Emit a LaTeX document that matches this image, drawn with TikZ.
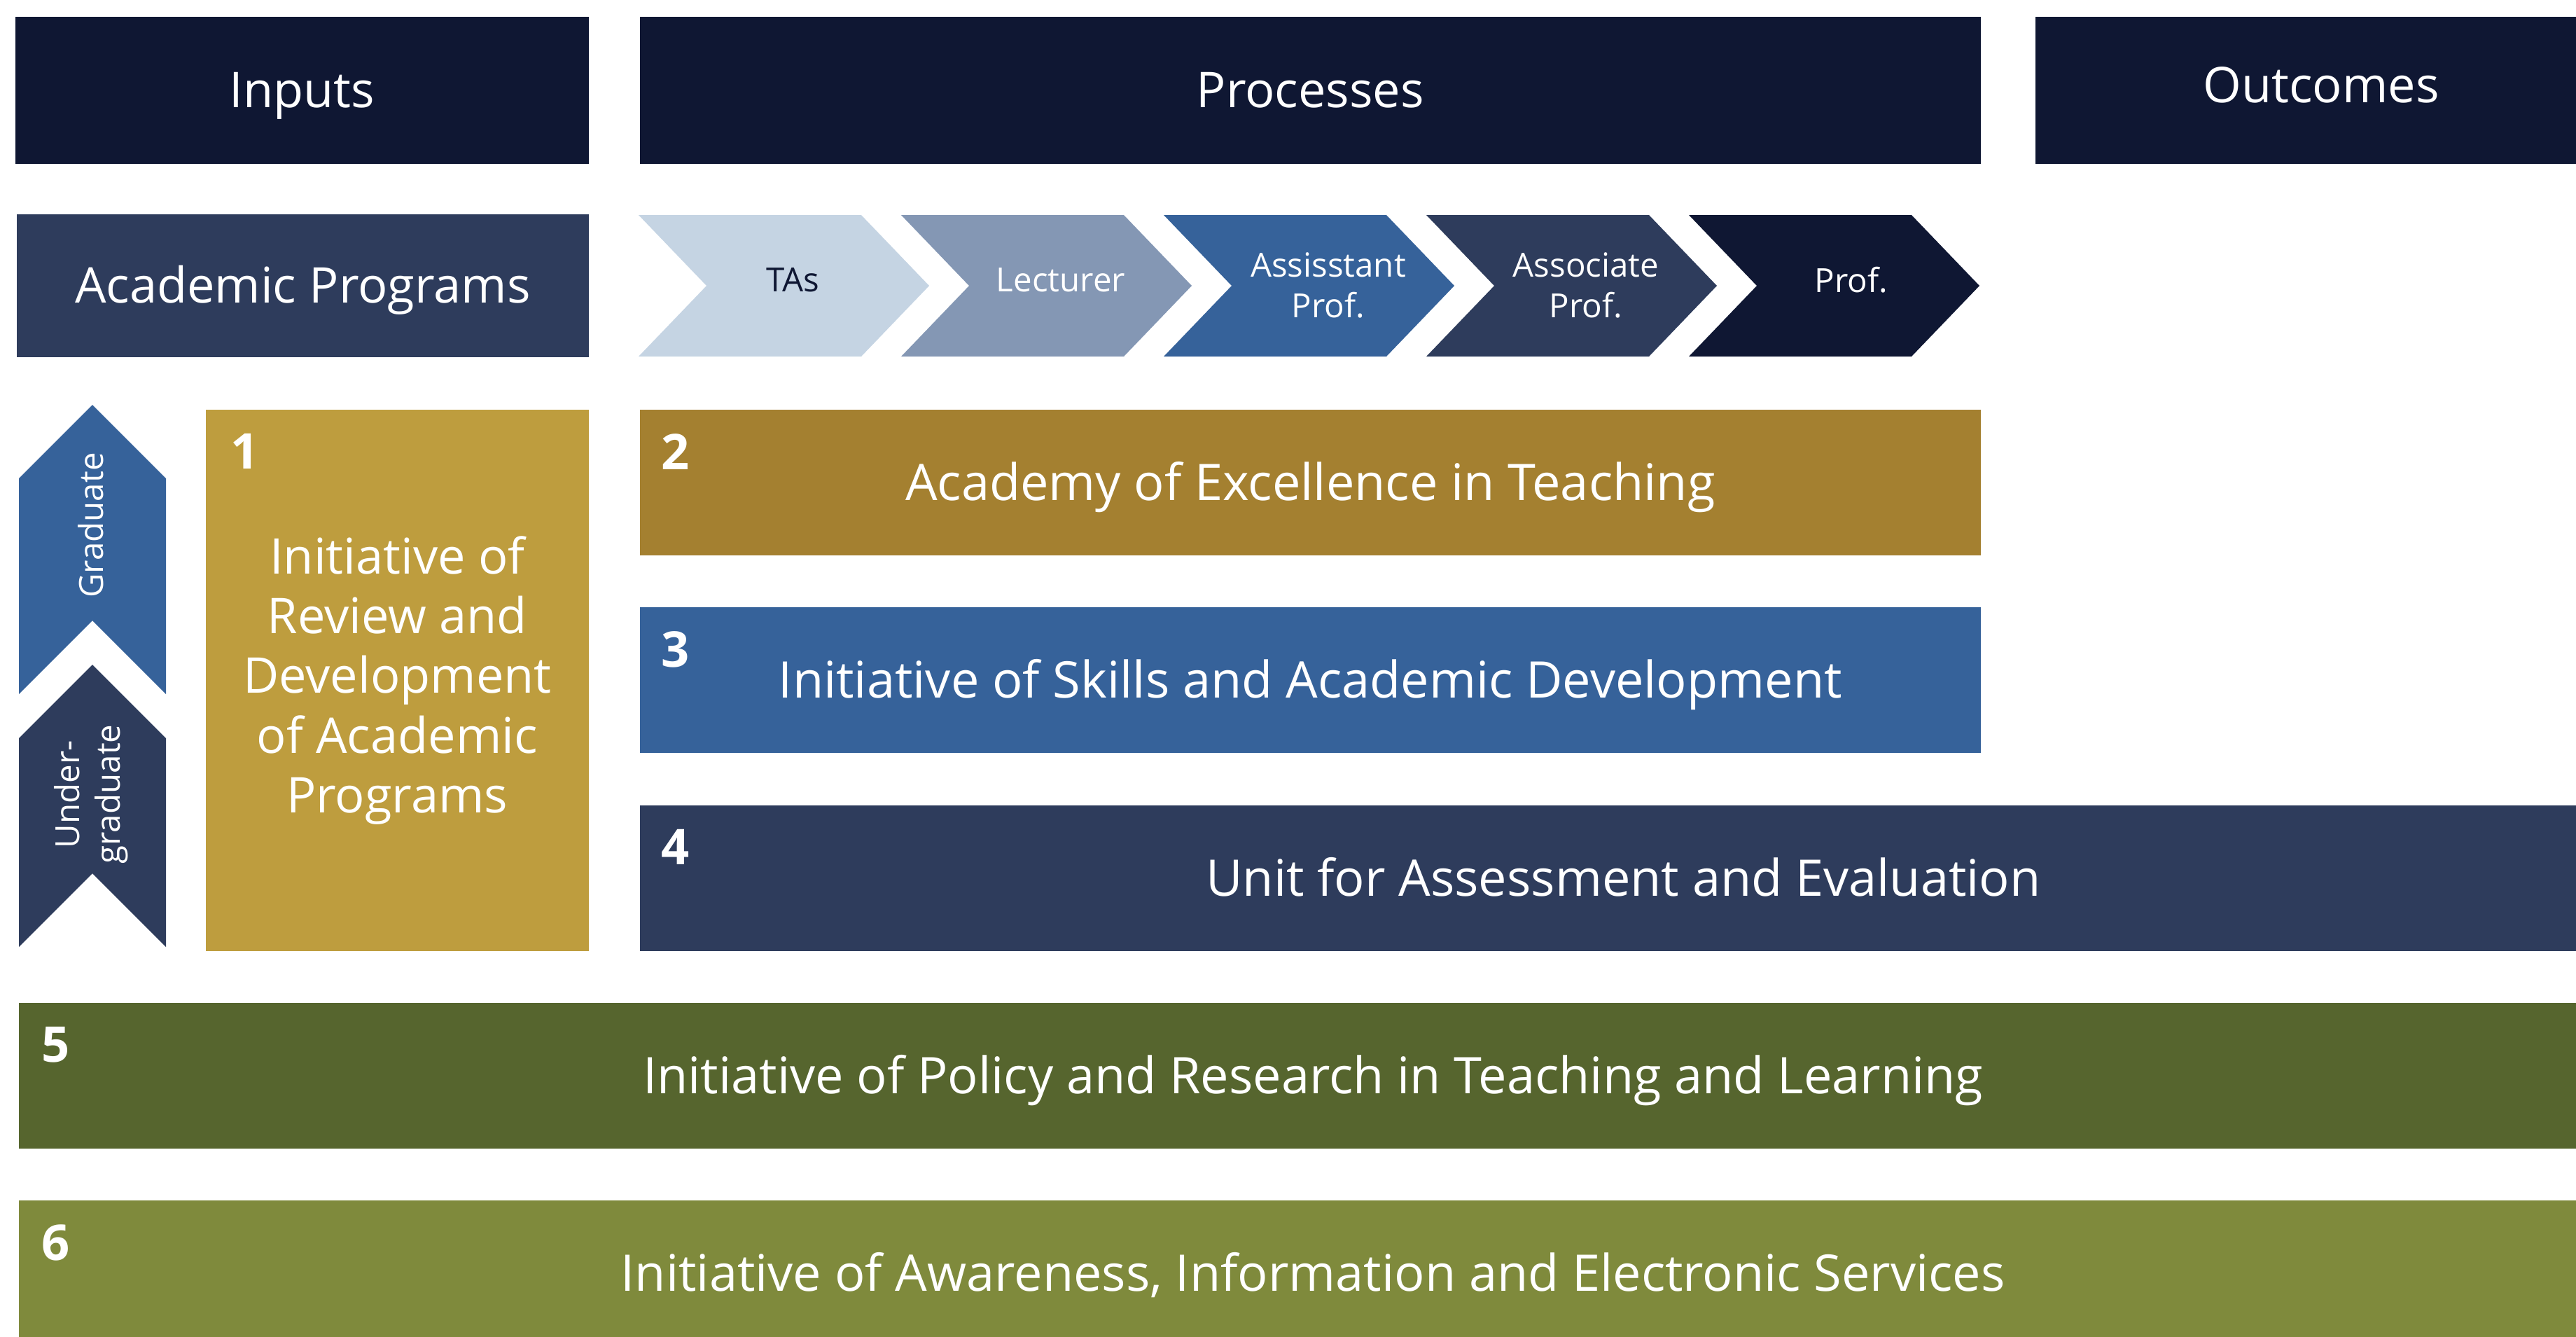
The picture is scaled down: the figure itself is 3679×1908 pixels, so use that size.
\documentclass[tikz,border=0pt]{standalone}
\usepackage{fontspec}
\setmainfont{Open Sans}
\usepackage{tikz}
\usetikzlibrary{positioning}

\definecolor{navy}{HTML}{0F1733}
\definecolor{slate}{HTML}{2E3C5C}
\definecolor{steel}{HTML}{36629A}
\definecolor{greyblue}{HTML}{8497B4}
\definecolor{pale}{HTML}{C5D4E3}
\definecolor{gold}{HTML}{BE9D3E}
\definecolor{ochre}{HTML}{A48030}
\definecolor{olive}{HTML}{56652E}
\definecolor{moss}{HTML}{7F8A3C}

\tikzset{
    box/.style={ % Coloured block, placed by its top left corner
        rectangle,
        anchor=north west,
        inner sep=0pt,
        text=white,
        align=center,
        font=\fontsize{20}{24.2}\selectfont
    },
    oneline/.style={text height=14.3pt, text depth=0pt}, % centre on the capitals
    headbox/.style={box, oneline, fill=navy, minimum height=21mm},
    bar/.style={box, oneline, minimum height=20.8mm, font=\fontsize{20.5}{24}\selectfont, text height=14.6pt},
    num/.style={ % Number in the corner of a block
        anchor=north west,
        inner sep=0pt,
        text=white,
        font=\fontsize{20}{24}\selectfont\bfseries
    },
    chevtext/.style={
        inner sep=0pt,
        align=center,
        text=white,
        font=\fontsize{13.5}{16.5}\selectfont
    }
}

\begin{document}
\begin{tikzpicture}[x=0.01cm, y=-0.01cm]
            \useasboundingbox (0,0) rectangle (3679,1908);
            \clip (0,0) rectangle (3679,1908);

            % headers
            \node[headbox, minimum width=81.9mm] (inputs) at (21,23) {Inputs};
            \node[headbox, minimum width=191.4mm] (processes) at (913,23) {Processes};
            \node[headbox, minimum width=81.6mm, text depth=4pt] (outcomes) at (2906,23) {Outcomes};

            % academic ranks
            \node[box, oneline, fill=slate, minimum width=81.7mm, minimum height=20.4mm] (programs) at (23,305) {Academic Programs};
            \fill[pale] (912,307) -- ++(318,0) -- ++(97,101) -- ++(-97,101) -- ++(-318,0) -- ++(97,-101) -- cycle;
            \fill[greyblue] (1287,307) -- ++(318,0) -- ++(97,101) -- ++(-97,101) -- ++(-318,0) -- ++(97,-101) -- cycle;
            \fill[steel] (1662,307) -- ++(318,0) -- ++(97,101) -- ++(-97,101) -- ++(-318,0) -- ++(97,-101) -- cycle;
            \fill[slate] (2037,307) -- ++(318,0) -- ++(97,101) -- ++(-97,101) -- ++(-318,0) -- ++(97,-101) -- cycle;
            \fill[navy] (2412,307) -- ++(318,0) -- ++(97,101) -- ++(-97,101) -- ++(-318,0) -- ++(97,-101) -- cycle;
            \node[chevtext, text=navy] (tas) at (1132,400) {TAs};
            \node[chevtext] (lecturer) at (1515,400) {Lecturer};
            \node[chevtext] (assistant) at (1897,407) {Assisstant\\Prof.};
            \node[chevtext] (associate) at (2265,407) {Associate\\Prof.};
            \node[chevtext] (prof) at (2644,400) {Prof.};

            % levels
            \fill[steel] (27,683) -- ++(105,-105) -- ++(105,105) -- (237,991) -- ++(-105,-105) -- (27,991) -- cycle;
            \fill[slate] (27,1054) -- ++(105,-105) -- ++(105,105) -- (237,1352) -- ++(-105,-105) -- (27,1352) -- cycle;
            \node[chevtext, rotate=90] (graduate) at (130,750) {Graduate};
            \node[chevtext, rotate=90] (undergrad) at (130,1134) {Under-\\graduate};

            % initiatives
            \node[box, fill=gold, minimum width=54.7mm, minimum height=77.3mm] (init1) at (293,584) {Initiative of\\Review and\\Development\\of Academic\\Programs};
            \node[bar, fill=ochre, minimum width=191.4mm] (init2) at (913,584) {Academy of Excellence in Teaching};
            \node[bar, fill=steel, minimum width=191.4mm] (init3) at (913,866) {Initiative of Skills and Academic Development};
            \node[bar, fill=slate, minimum width=280.8mm] (init4) at (913,1149) {Unit for Assessment and Evaluation};
            \node[bar, fill=olive, minimum width=369.5mm] (init5) at (26,1431) {Initiative of Policy and Research in Teaching and Learning};
            \node[bar, fill=moss, minimum width=369.5mm] (init6) at (26,1713) {Initiative of Awareness, Information and Electronic Services};

            \node[num] at ([xshift=3.6mm, yshift=-3.5mm]init1.north west) {1};
            \node[num] at ([xshift=3.1mm, yshift=-3.5mm]init2.north west) {2};
            \node[num] at ([xshift=3.1mm, yshift=-3.5mm]init3.north west) {3};
            \node[num] at ([xshift=3.1mm, yshift=-3.5mm]init4.north west) {4};
            \node[num] at ([xshift=3.3mm, yshift=-3.5mm]init5.north west) {5};
            \node[num] at ([xshift=3.3mm, yshift=-3.5mm]init6.north west) {6};
        \end{tikzpicture}
\end{document}
